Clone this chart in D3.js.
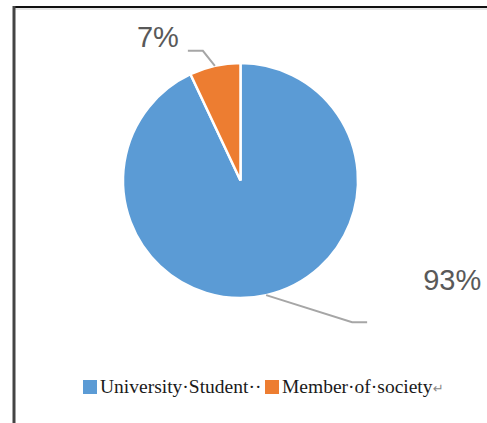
<!DOCTYPE html>
<html>
<head>
<meta charset="utf-8">
<script src="https://cdn.jsdelivr.net/npm/d3@7"></script>
<style>
  html, body { margin: 0; padding: 0; background: #fff; }
  svg { display: block; }
</style>
</head>
<body>
<svg id="chart" width="487" height="423"></svg>
<script>
// Respondent groups and their shares (percent)
const categories = ["University Student", "Member of society"];
const values = [93, 7];
const valueLabels = ["93%", "7%"];
const legendLabels = ["University\u00B7Student\u00B7\u00B7", "Member\u00B7of\u00B7society"];

const colors = d3.scaleOrdinal()
  .domain(categories)
  .range(["#5B9BD5", "#ED7D31"]);

const W = 487, H = 423;
const cx = 240.5, cy = 180.5, radius = 117.5;

const svg = d3.select("#chart");

// frame lines along the top and left edges
svg.append("line").attr("x1", 13).attr("x2", W).attr("y1", 7).attr("y2", 7)
  .attr("stroke", "#111").attr("stroke-width", 2);
svg.append("line").attr("x1", 14).attr("x2", W).attr("y1", 9).attr("y2", 9)
  .attr("stroke", "#ccc").attr("stroke-width", 1);
svg.append("line").attr("x1", 14).attr("x2", 14).attr("y1", 6).attr("y2", H)
  .attr("stroke", "#444").attr("stroke-width", 3);

const data = categories.map((c, i) => ({ category: c, value: values[i], label: valueLabels[i] }));

const pie = d3.pie().sort(null).value(d => d.value);
const arcs = pie(data);

const arc = d3.arc().innerRadius(0).outerRadius(radius);

const g = svg.append("g").attr("transform", `translate(${cx},${cy})`);

g.selectAll("path.slice")
  .data(arcs)
  .join("path")
  .attr("class", "slice")
  .attr("d", arc)
  .attr("fill", d => colors(d.data.category))
  .attr("stroke", "#fff")
  .attr("stroke-width", 2.5)
  .attr("stroke-linejoin", "miter");

// leader line geometry: elbow offset from the slice edge, then a horizontal run
const leaderLayout = [
  { elbow: [86, 27], run: 15, text: [56, -32], anchor: "start" },
  { elbow: [-12, -15], run: -15, text: [-9, -4], anchor: "end" }
];

arcs.forEach((a, i) => {
  const mid = (a.startAngle + a.endAngle) / 2;
  const p0 = [Math.sin(mid) * radius, -Math.cos(mid) * radius];
  const L = leaderLayout[i];
  const p1 = [p0[0] + L.elbow[0], p0[1] + L.elbow[1]];
  const p2 = [p1[0] + L.run, p1[1]];
  g.append("polyline")
    .attr("points", [p0, p1, p2].map(p => p.join(",")).join(" "))
    .attr("fill", "none")
    .attr("stroke", "#a6a6a6")
    .attr("stroke-width", 2);
  g.append("text")
    .attr("x", p2[0] + L.text[0])
    .attr("y", p2[1] + L.text[1])
    .attr("text-anchor", L.anchor)
    .attr("font-family", "'Liberation Sans', Arial, sans-serif")
    .attr("font-size", 29)
    .attr("fill", "#595959")
    .text(a.data.label);
});

// legend
const legend = svg.append("g").attr("transform", "translate(83,380)");
const legendX = [0, 182];
categories.forEach((c, i) => {
  const item = legend.append("g").attr("transform", `translate(${legendX[i]},0)`);
  item.append("rect").attr("width", 14).attr("height", 14).attr("fill", colors(c));
  item.append("text")
    .attr("x", 17).attr("y", 13)
    .attr("font-family", "'Liberation Serif', 'Times New Roman', serif")
    .attr("font-size", 19.5)
    .attr("fill", "#1a1a1a")
    .text(legendLabels[i]);
});
// paragraph mark at the end of the legend line
legend.append("text")
  .attr("x", 350).attr("y", 13)
  .attr("font-family", "'DejaVu Sans', sans-serif")
  .attr("font-size", 13)
  .attr("fill", "#888")
  .text("\u21B5");
</script>
</body>
</html>
